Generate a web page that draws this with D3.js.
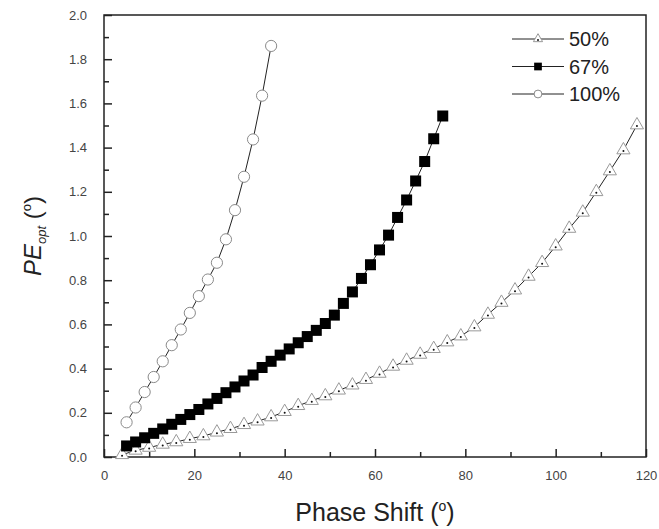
<!DOCTYPE html>
<html lang="en">
<head>
    <meta charset="UTF-8">
    <title>PE_opt vs Phase Shift</title>
    <style>
        body { margin: 0; background: #fff; }
        text { font-family: Arial, "Liberation Sans", sans-serif; }
    </style>
    <script src="https://d3js.org/d3.v7.min.js"></script>
</head>
<body>
<script>
// phase shift (deg) and PE_opt (deg) for each duty ratio
const x50 = [4, 7, 10, 13, 16, 19, 22, 25, 28, 31, 34, 37, 40, 43, 46, 49, 52, 55, 58, 61,
             64, 67, 70, 73, 76, 79, 82, 85, 88, 91, 94, 97, 100, 103, 106, 109, 112, 115, 118];
const y50 = [0.010, 0.030, 0.043, 0.057, 0.068, 0.083, 0.095, 0.112, 0.128, 0.146, 0.162, 0.181,
             0.205, 0.232, 0.255, 0.276, 0.302, 0.325, 0.350, 0.378, 0.410, 0.437, 0.464, 0.490,
             0.520, 0.547, 0.588, 0.645, 0.699, 0.755, 0.817, 0.879, 0.954, 1.034, 1.107, 1.200,
             1.294, 1.389, 1.502];

const x67 = [5, 7, 9, 11, 13, 15, 17, 19, 21, 23, 25, 27, 29, 31, 33, 35, 37, 39, 41, 43,
             45, 47, 49, 51, 53, 55, 57, 59, 61, 63, 65, 67, 69, 71, 73, 75];
const y67 = [0.050, 0.068, 0.087, 0.107, 0.127, 0.148, 0.170, 0.192, 0.215, 0.240, 0.265, 0.291,
             0.317, 0.344, 0.371, 0.405, 0.433, 0.461, 0.489, 0.517, 0.545, 0.573, 0.604, 0.642,
             0.695, 0.747, 0.808, 0.870, 0.937, 1.004, 1.084, 1.163, 1.249, 1.337, 1.440, 1.543];

const x100 = [5, 7, 9, 11, 13, 15, 17, 19, 21, 23, 25, 27, 29, 31, 33, 35, 37];
const y100 = [0.157, 0.224, 0.294, 0.362, 0.433, 0.506, 0.577, 0.652, 0.728, 0.803, 0.879,
              0.985, 1.117, 1.268, 1.437, 1.635, 1.860];

const seriesNames = ["50%", "67%", "100%"];
const xTicks = [0, 20, 40, 60, 80, 100, 120];
const yTicks = [0, 0.2, 0.4, 0.6, 0.8, 1.0, 1.2, 1.4, 1.6, 1.8, 2.0];

var width = 659, height = 529;
var margin = {left: 104, right: 13, top: 15, bottom: 72};

var svg = d3.select("body").append("svg")
    .attr("width", width)
    .attr("height", height);

var x = d3.scaleLinear().domain([0, 120]).range([margin.left, width - margin.right]);
var y = d3.scaleLinear().domain([0, 2]).range([height - margin.bottom, margin.top]);

// build point lists from the arrays
function zipPts(xs, ys) {
    return xs.map(function (d, i) { return {x: d, y: ys[i]}; });
}
var series = [
    {name: seriesNames[0], pts: zipPts(x50, y50), kind: "triangle"},
    {name: seriesNames[1], pts: zipPts(x67, y67), kind: "square"},
    {name: seriesNames[2], pts: zipPts(x100, y100), kind: "circle"}
];

// axes, ticks pointing inward
var xAxis = svg.append("g")
    .attr("transform", "translate(0," + y(0) + ")")
    .call(d3.axisBottom(x).tickValues(xTicks).tickSize(-8).tickPadding(14).tickFormat(d3.format("d")));
var xMinor = svg.append("g")
    .attr("transform", "translate(0," + y(0) + ")")
    .call(d3.axisBottom(x).tickValues([10, 30, 50, 70, 90, 110]).tickSize(-5).tickFormat(""));

var yAxis = svg.append("g")
    .attr("transform", "translate(" + x(0) + ",0)")
    .call(d3.axisLeft(y).tickValues(yTicks).tickSize(-8).tickPadding(17).tickFormat(d3.format(".1f")));
var yMinor = svg.append("g")
    .attr("transform", "translate(" + x(0) + ",0)")
    .call(d3.axisLeft(y).tickValues(d3.range(0.1, 2, 0.2)).tickSize(-5).tickFormat(""));

svg.selectAll(".domain").remove();
svg.selectAll(".tick line").attr("stroke", "#222").attr("stroke-width", 1.5);
svg.selectAll(".tick text")
    .attr("font-size", 13)
    .attr("fill", "#444");

// frame
svg.append("rect")
    .attr("x", x(0))
    .attr("y", y(2))
    .attr("width", x(120) - x(0))
    .attr("height", y(0) - y(2))
    .attr("fill", "none")
    .attr("stroke", "#222")
    .attr("stroke-width", 1.5);

var line = d3.line().x(d => x(d.x)).y(d => y(d.y));

function drawMarker(g, kind, cx, cy, scale) {
    if (kind === "square") {
        var s = 11 * scale;
        g.append("rect")
            .attr("x", cx - s / 2).attr("y", cy - s / 2)
            .attr("width", s).attr("height", s)
            .attr("fill", "#000");
    } else if (kind === "circle") {
        g.append("circle")
            .attr("cx", cx).attr("cy", cy)
            .attr("r", 5.6 * scale)
            .attr("fill", "#fff")
            .attr("stroke", "#8a8a8a")
            .attr("stroke-width", 1);
    } else {
        g.append("path")
            .attr("d", d3.symbol(d3.symbolTriangle, 75 * scale * scale)())
            .attr("transform", "translate(" + cx + "," + cy + ")")
            .attr("fill", "#fff")
            .attr("stroke", "#999")
            .attr("stroke-width", 1);
        g.append("circle")
            .attr("cx", cx).attr("cy", cy + 1)
            .attr("r", 1)
            .attr("fill", "#111");
    }
}

// series lines then markers
series.forEach(function (s) {
    svg.append("path")
        .datum(s.pts)
        .attr("d", line)
        .attr("fill", "none")
        .attr("stroke", "#222")
        .attr("stroke-width", 1);
    var g = svg.append("g");
    s.pts.forEach(function (p) {
        drawMarker(g, s.kind, x(p.x), y(p.y), 1);
    });
});

// legend
var legend = svg.append("g");
series.forEach(function (s, i) {
    var ly = 39 + i * 27.5;
    legend.append("line")
        .attr("x1", 512).attr("x2", 564)
        .attr("y1", ly).attr("y2", ly)
        .attr("stroke", "#222").attr("stroke-width", 1);
    drawMarker(legend, s.kind, 538, ly, 0.7);
    legend.append("text")
        .attr("x", 569)
        .attr("y", ly + 7)
        .attr("font-size", 20)
        .attr("fill", "#222")
        .text(s.name);
});

// axis titles
svg.append("text")
    .attr("x", x(60))
    .attr("y", 521)
    .attr("text-anchor", "middle")
    .attr("font-size", 25)
    .attr("fill", "#222")
    .html("Phase Shift (<tspan dy='-10' font-size='14'>o</tspan><tspan dy='10'>)</tspan>");

var yt = svg.append("text")
    .attr("transform", "translate(41," + ((y(0) + y(2)) / 2) + ") rotate(-90)")
    .attr("text-anchor", "middle")
    .attr("font-size", 24)
    .attr("fill", "#222");
yt.append("tspan").attr("font-style", "italic").text("PE");
yt.append("tspan").attr("font-style", "italic").attr("font-size", 13).attr("dy", 5).text("opt");
yt.append("tspan").attr("dy", -5).text(" (");
yt.append("tspan").attr("font-size", 13).attr("dy", -10).text("o");
yt.append("tspan").attr("dy", 10).text(")");
</script>
</body>
</html>
